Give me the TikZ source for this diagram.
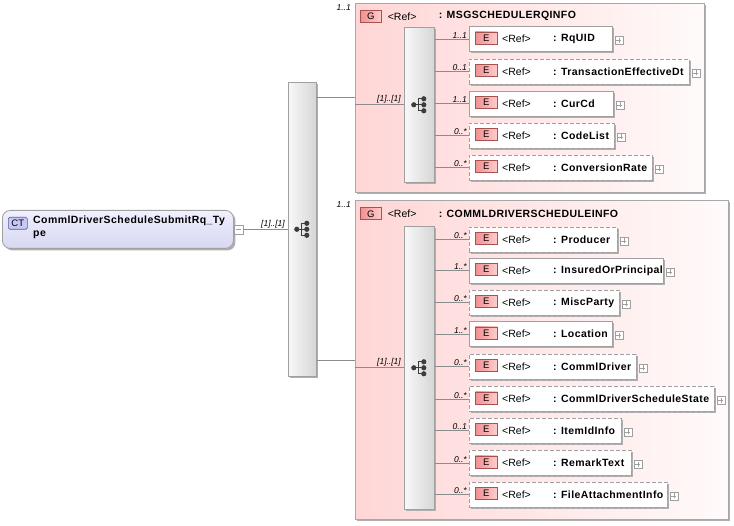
\documentclass[tikz,border=0pt]{standalone}
\usepackage{fontspec}
\setmainfont{Liberation Sans}
\newfontfamily\lblfont{Liberation Sans}[LetterSpace=4]
\usetikzlibrary{shadows}
\definecolor{grpborder}{RGB}{168,168,168}
\definecolor{grppink}{RGB}{255,214,214}
\definecolor{grpwhite}{RGB}{255,250,250}
\definecolor{conncol}{RGB}{140,140,140}
\definecolor{elborder}{RGB}{160,160,160}
\definecolor{barL}{RGB}{248,248,248}
\definecolor{barR}{RGB}{214,214,214}
\definecolor{ebadgeL}{RGB}{240,145,145}
\definecolor{ebadgeR}{RGB}{255,205,205}
\definecolor{ebadgeB}{RGB}{170,80,80}
\definecolor{ctbadgeF}{RGB}{200,200,245}
\definecolor{ctbadgeB}{RGB}{90,90,160}
\definecolor{ctTop}{RGB}{240,240,255}
\definecolor{ctBot}{RGB}{215,215,240}
\definecolor{icocol}{RGB}{60,60,60}
\definecolor{shadcol}{RGB}{175,175,175}

\newcommand\xelem[7]{%
  \node[#4, minimum width={#3pt-469pt}, anchor=west] (#1) at (469,#2) {};
  \node[ebadge, anchor=west] (#1b) at ([xshift=6pt,yshift=1pt]#1.west) {E};
  \node[reftxt, anchor=west] (#1r) at ([xshift=33pt]#1.west) {<Ref>};
  \node[nametxt, anchor=west] (#1n) at ([xshift=84pt]#1.west) {: #6};
  \node[plusbox] (#1p) at ([xshift=6pt,yshift=-1.5pt]#1.east) {};
  \draw[plusline] ([xshift=-2.5pt]#1p.center) -- ([xshift=2.5pt]#1p.center)
                  ([yshift=-2.5pt]#1p.center) -- ([yshift=2.5pt]#1p.center);
  \draw[conn] (#7.east |- #1.west) -- (#1.west);
  \node[multtxt, anchor=south east] at ([xshift=-2pt,yshift=0.5pt]#1.west) {#5};
}

\begin{document}
\begin{tikzpicture}[x=1pt,y=-1pt,
  shad/.style={drop shadow={fill=shadcol, opacity=1, shadow xshift=2pt, shadow yshift=-2pt}},
  grp/.style={rectangle, draw=grpborder, line width=0.8pt, left color=grppink, right color=grpwhite, shad, inner sep=0pt, anchor=north west},
  seqbar/.style={rectangle, draw=elborder, line width=0.6pt, left color=barL, right color=barR, shad, inner sep=0pt, anchor=north west},
  elsolid/.style={rectangle, draw=elborder, line width=0.8pt, fill=white, shad, minimum height=25pt, inner sep=0pt},
  eldash/.style={rectangle, draw=elborder, line width=0.8pt, dash pattern=on 4pt off 2pt, fill=white, shad, minimum height=25pt, inner sep=0pt},
  ebadge/.style={rectangle, draw=ebadgeB, line width=0.6pt, left color=ebadgeL, right color=ebadgeR, minimum width=22pt, minimum height=12pt, inner sep=0pt, font=\fontsize{9.5}{10}\selectfont},
  gbadge/.style={ebadge, minimum width=21pt},
  ctbadge/.style={rectangle, rounded corners=1.5pt, draw=ctbadgeB, line width=0.6pt, fill=ctbadgeF, minimum width=19pt, minimum height=12pt, inner sep=0pt, font=\fontsize{9.5}{10}\selectfont},
  reftxt/.style={inner sep=0pt, font=\fontsize{10.5}{12}\selectfont},
  nametxt/.style={inner sep=0pt, font=\lblfont\bfseries\fontsize{10.5}{12}\selectfont},
  multtxt/.style={inner sep=0pt, font=\itshape\fontsize{8.5}{10}\selectfont},
  plusbox/.style={rectangle, draw=elborder, line width=0.5pt, fill=white, minimum size=8pt, inner sep=0pt},
  plusline/.style={draw=elborder, line width=0.6pt},
  conn/.style={draw=conncol, line width=0.7pt},
  icon/.style={draw=icocol, fill=icocol, line width=0.9pt},
  seqicon/.pic={
    \draw[icon] (-5.5,0) -- (-1,0) (-1,-6) -- (-1,6) (-1,-6) -- (4.5,-6) (-1,0) -- (4.5,0) (-1,6) -- (4.5,6);
    \fill[icon] (-5.5,0) circle (2.1pt) (4.5,-6) circle (2.1pt) (4.5,0) circle (2.1pt) (4.5,6) circle (2.1pt);
  }
]
\fill[white] (0,0) rectangle (734,526);
\useasboundingbox (0,0) rectangle (734,526);

% root complex type
\node[rectangle, rounded corners=8pt, draw=elborder, line width=0.8pt, top color=ctTop, bottom color=ctBot, shad,
      minimum width=231pt, minimum height=38pt, anchor=north west] (ct) at (2,210) {};
\node[ctbadge, anchor=north west] (ctb) at (8,217) {CT};
\node[anchor=north west, align=left, inner sep=0pt, font=\lblfont\bfseries\fontsize{10.5}{13}\selectfont] (ctt) at (33,215.5)
  {CommlDriverScheduleSubmitRq\_Ty\\pe};
\node[plusbox, minimum size=9pt] (ctm) at (238.5,229.5) {};
\draw[plusline] ([xshift=-2.5pt]ctm.center) -- ([xshift=2.5pt]ctm.center);

% main sequence bar
\node[seqbar, minimum width=28pt, minimum height=294pt] (mbar) at (288,82) {};
\pic at (mbar.center) {seqicon};
\draw[conn] (ctm.east) -- (mbar.west |- ctm.east);
\node[multtxt, anchor=south east] at ([xshift=-3pt,yshift=1pt]mbar.west |- ctm.east) {[1]..[1]};

% group 1
\node[grp, minimum width=349pt, minimum height=189pt] (g1) at (355,3) {};
\node[multtxt, anchor=north east] at ([xshift=-4pt,yshift=-1pt]g1.north west) {1..1};
\node[gbadge, anchor=north west] (g1b) at ([xshift=5pt,yshift=-7pt]g1.north west) {G};
\node[reftxt, anchor=west] at ([xshift=6pt]g1b.east) {<Ref>};
\node[nametxt, anchor=west] at ([xshift=57pt]g1b.east) {: MSGSCHEDULERQINFO};
\node[seqbar, minimum width=30pt, minimum height=155pt] (b1) at (404,27) {};
\pic at (b1.center) {seqicon};
\coordinate (j1) at (355,97);
\draw[conn] (mbar.east |- j1) -- (j1);
\draw[conn] (g1.west |- b1.west) -- (b1.west);
\node[multtxt, anchor=south east] at ([xshift=-3pt,yshift=1pt]b1.west) {[1]..[1]};

\xelem{e1}{39}{612}{elsolid}{1..1}{RqUID}{b1}
\xelem{e2}{71.5}{689}{eldash}{0..1}{TransactionEffectiveDt}{b1}
\xelem{e3}{103.5}{613}{elsolid}{1..1}{CurCd}{b1}
\xelem{e4}{135.5}{614}{eldash}{0..*}{CodeList}{b1}
\xelem{e5}{167.5}{652}{eldash}{0..*}{ConversionRate}{b1}

% group 2
\node[grp, minimum width=373pt, minimum height=319pt] (g2) at (355,200) {};
\node[multtxt, anchor=north east] at ([xshift=-4pt,yshift=-1pt]g2.north west) {1..1};
\node[gbadge, anchor=north west] (g2b) at ([xshift=5pt,yshift=-7.5pt]g2.north west) {G};
\node[reftxt, anchor=west] at ([xshift=6pt]g2b.east) {<Ref>};
\node[nametxt, anchor=west] at ([xshift=57pt]g2b.east) {: COMMLDRIVERSCHEDULEINFO};
\node[seqbar, minimum width=30pt, minimum height=283pt] (b2) at (404,226) {};
\pic at (b2.center) {seqicon};
\coordinate (j2) at (355,360);
\draw[conn] (mbar.east |- j2) -- (j2);
\draw[conn] (g2.west |- b2.west) -- (b2.west);
\node[multtxt, anchor=south east] at ([xshift=-3pt,yshift=1pt]b2.west) {[1]..[1]};

\xelem{f1}{239.5}{617}{eldash}{0..*}{Producer}{b2}
\xelem{f2}{270.5}{663}{elsolid}{1..*}{InsuredOrPrincipal}{b2}
\xelem{f3}{302.5}{619}{eldash}{0..*}{MiscParty}{b2}
\xelem{f4}{334}{612}{elsolid}{1..*}{Location}{b2}
\xelem{f5}{366.5}{636}{eldash}{0..*}{CommlDriver}{b2}
\xelem{f6}{399}{714}{eldash}{0..*}{CommlDriverScheduleState}{b2}
\xelem{f7}{430.5}{621}{eldash}{0..1}{ItemIdInfo}{b2}
\xelem{f8}{463}{631}{eldash}{0..*}{RemarkText}{b2}
\xelem{f9}{494.5}{667}{eldash}{0..*}{FileAttachmentInfo}{b2}
\end{tikzpicture}
\end{document}
